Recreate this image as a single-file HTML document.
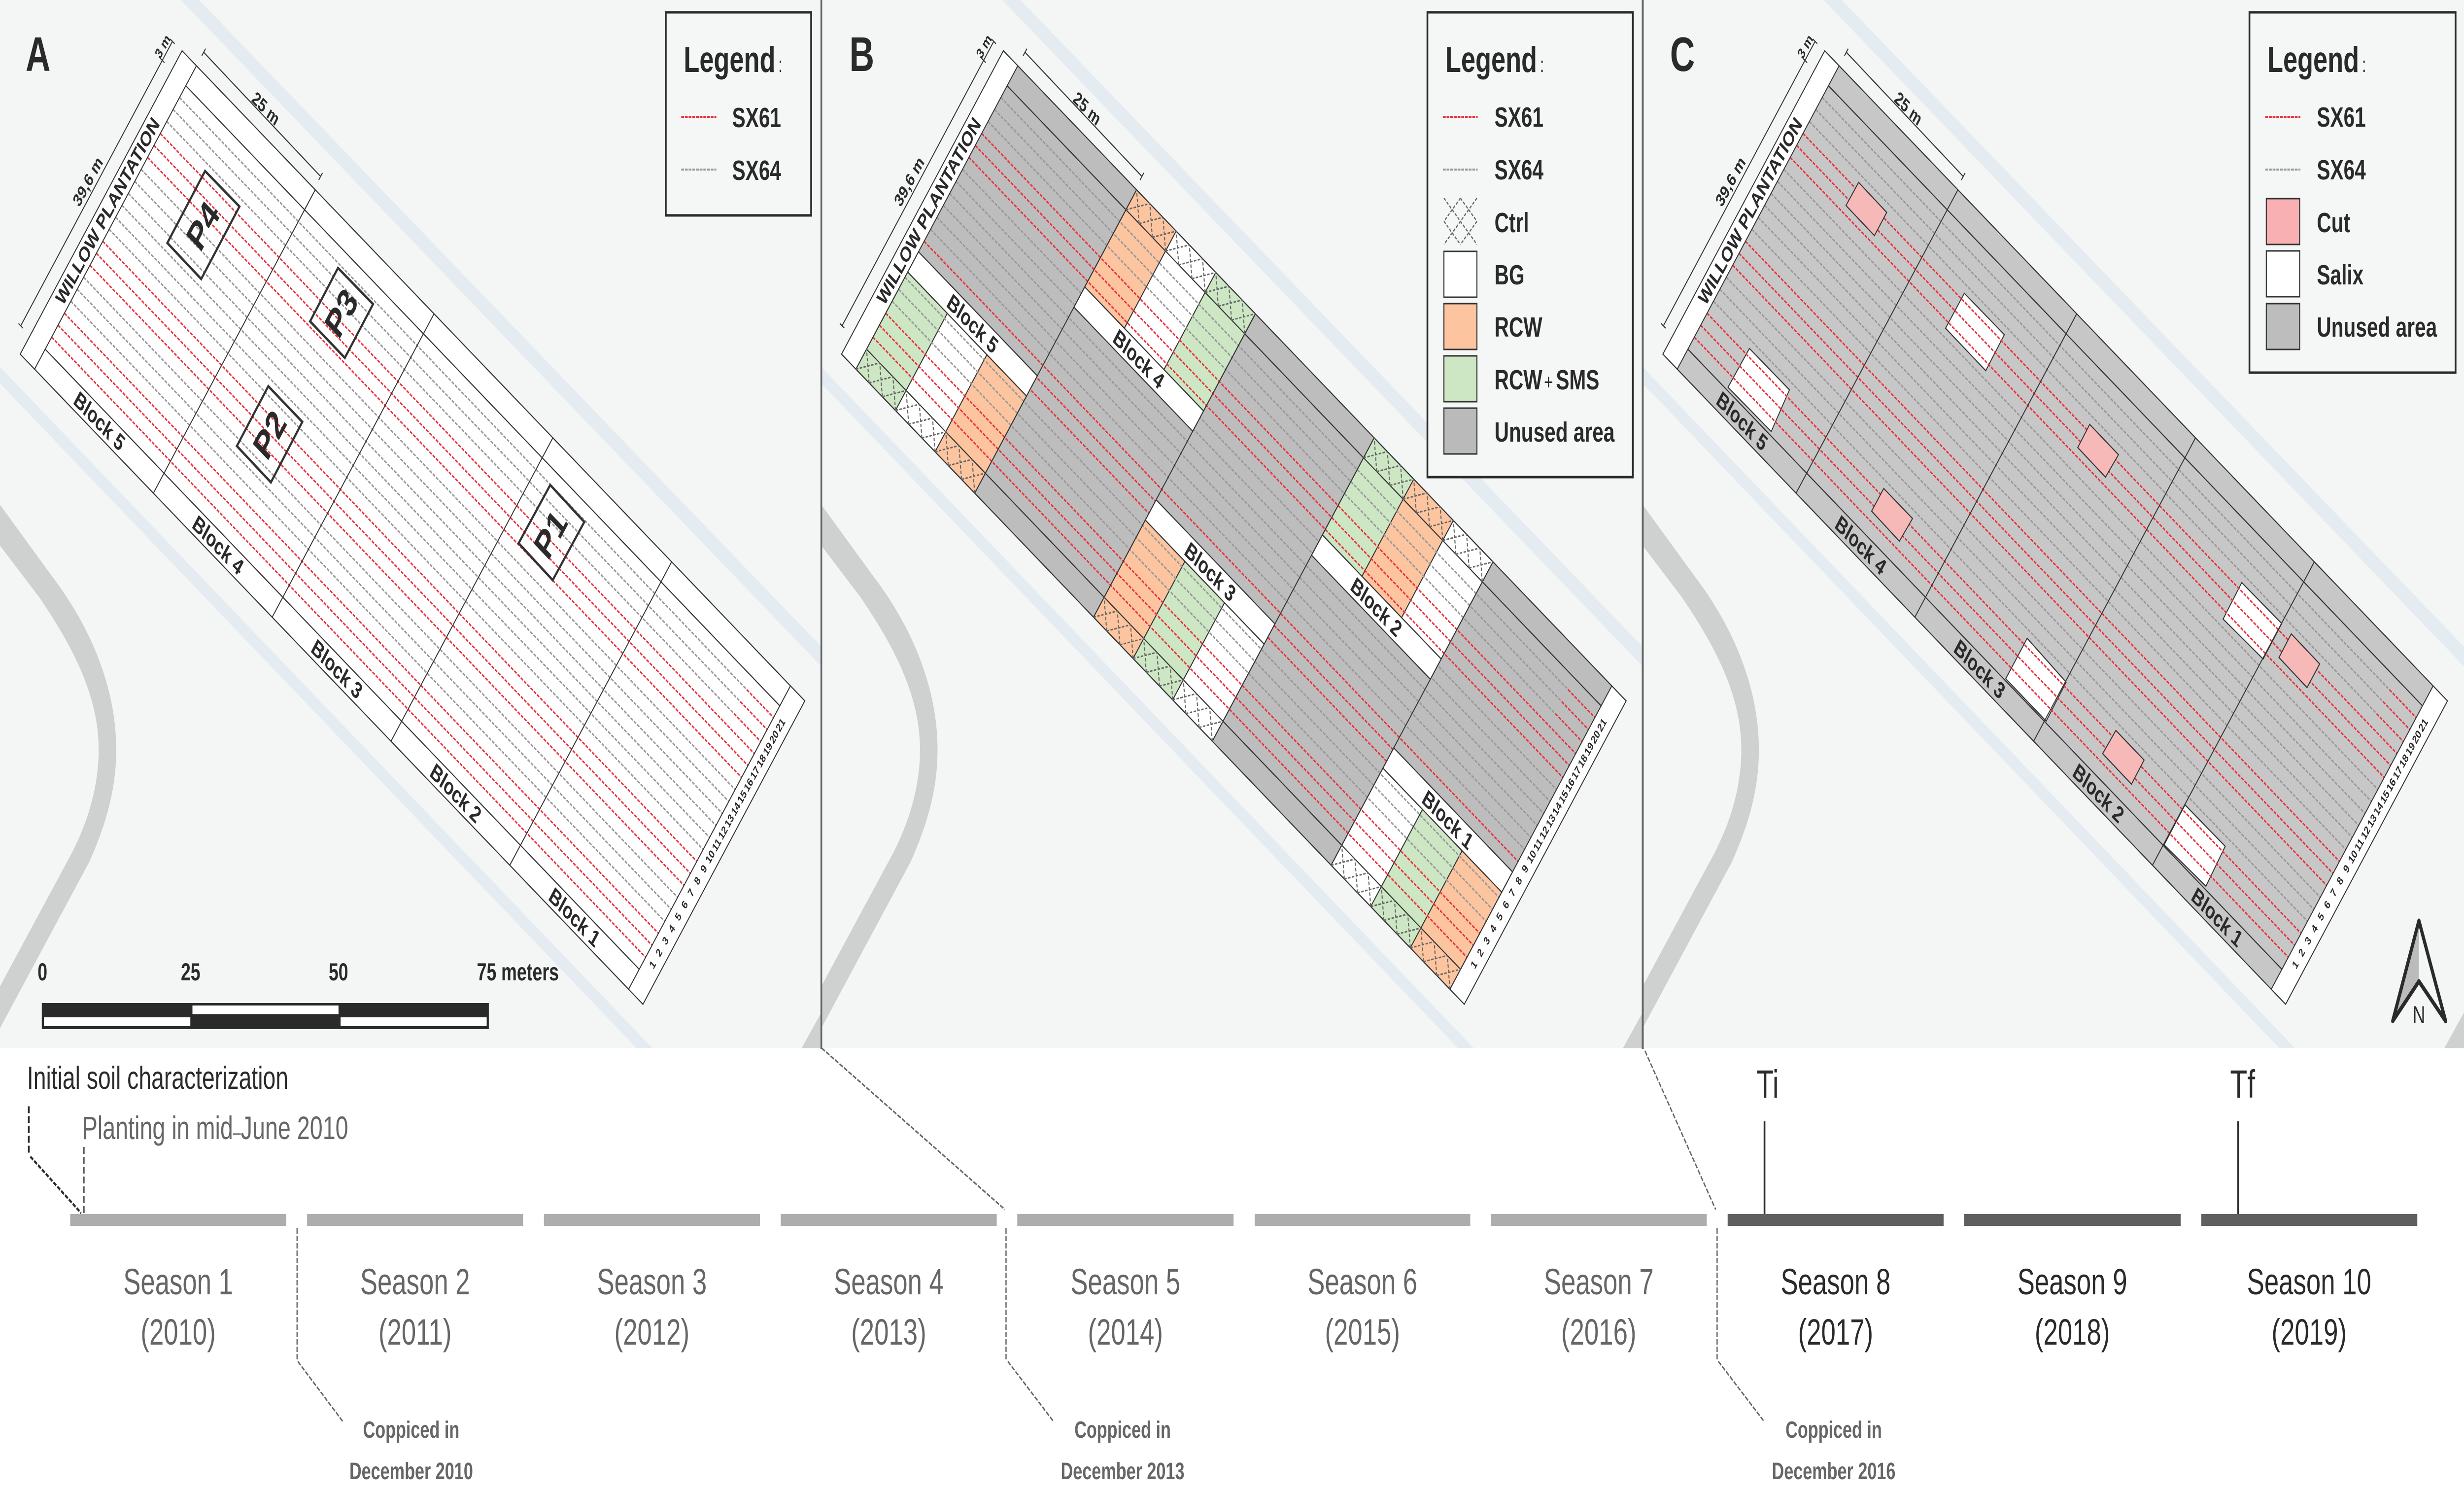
<!DOCTYPE html>
<html><head><meta charset="utf-8"><title>Willow plantation experimental design</title>
<style>
html,body{margin:0;padding:0;background:#fff;width:100%;height:100%;overflow:hidden}
svg{display:block;overflow:hidden;width:100vw;height:100vh}
text{font-family:"Liberation Sans",sans-serif;fill:#2a2a2a}
.b{font-weight:700}
.c{font-weight:700;text-anchor:middle;dominant-baseline:central}
.n text{font-weight:700;font-size:24px;text-anchor:middle;dominant-baseline:central}
.bl text{font-weight:700;font-size:47px;text-anchor:middle;dominant-baseline:central}
.leg{font-weight:700;font-size:57px}
.lt{font-weight:700;font-size:73.5px}
.s{font-size:74px;text-anchor:middle;fill:#666}
.sd{font-size:74px;text-anchor:middle;fill:#2a2a2a}
.cp{font-size:48px;font-weight:700;text-anchor:middle;fill:#666}
.sc{font-size:50px;font-weight:700}
</style></head><body>
<svg xmlns="http://www.w3.org/2000/svg" viewBox="0 0 7017 3025" preserveAspectRatio="none">
<defs>
<g id="base">
<rect x="0" y="0" width="2339" height="2126.5" fill="#f4f6f5"/>
<path d="M0,1024 L149,1170 C240,1255 331,1380 331,1521 C331,1590 310,1660 254,1749 L0,2086 L0,2001 L205,1730 C255,1660 281,1590 281,1521 C281,1410 205,1310 112,1212 L0,1107 Z" fill="#cfd0d0"/>
<polygon points="515,0 567,0 2339,1312 2339,1352" fill="#e4ebf1"/>
<polygon points="0,744.6 1858,2126.5 1813,2126.5 0,778" fill="#e4ebf1"/>
<polygon points="2339,2054 2283,2126.5 2339,2126.5" fill="#cfd0d0"/>
</g>
<g id="rows" fill="none" stroke-width="3.5" stroke-dasharray="8 3.5">
<path stroke="#999" d="M51 172.1H2159M51 202.5H2159M51 232.9H2159M51 354.4H2159M51 384.8H2159M51 415.2H2159M51 445.5H2159M51 475.9H2159M51 506.3H2159M51 627.8H2064M51 658.2H2064M51 688.6H2064"/>
<path stroke="#e8323c" d="M51 81H2159M51 111.4H2159M51 141.7H2159M51 263.3H2159M51 293.6H2159M51 324H2159M51 536.7H2159M51 567.1H2159M51 597.4H2159M2064 627.8H2159M2064 658.2H2159M2064 688.6H2159"/>
</g>
<path id="lines" fill="none" stroke="#333" stroke-width="2.5" d="M0 0H2210V769H0ZM51 0V769M472.6 0V769M894.2 0V769M1315.8 0V769M1737.4 0V769M2159 0V769M51 50.6H2159M51 718.4H2159"/>
<path id="h" fill="none" stroke="#666" stroke-width="3" stroke-dasharray="7 4" d="M0 0L46.8 50.6M46.8 0L0 50.6M46.8 0L93.7 50.6M93.7 0L46.8 50.6M93.7 0L140.5 50.6M140.5 0L93.7 50.6"/>
<path id="dim" fill="none" stroke="#333" stroke-width="2.5" d="M59,661L491,84M52.6,656.2L65.4,665.8M484.6,79.2L497.4,88.8M455.6,117.6L468.4,127.2M580,106L913,358M574.6,113.2L585.4,98.8M907.6,365.2L918.4,350.8"/>
</defs>

<rect width="7017" height="3025" fill="#fff"/>

<!-- PANEL A -->
<g>
<use href="#base"/>
<g transform="matrix(.80249 .59683 .59948 -.80039 57.5 718.5)">
<rect x="0" y="0" width="2210" height="769" fill="#fff"/>
<use href="#rows"/>
<use href="#lines"/>
</g>
<use href="#dim"/>
<text class="b" x="73" y="144" font-size="98">A</text>
<text class="c" font-size="43" transform="translate(306 428) rotate(-53.2)">WILLOW PLANTATION</text>
<text class="c" font-size="37" transform="translate(250 368) rotate(-53.2)">39,6 m</text>
<text class="c" font-size="30" transform="translate(463 94) rotate(-53.2)">3 m</text>
<text class="c" font-size="38" transform="translate(757 220) rotate(36.64)">25 m</text>
<g class="bl">
<text transform="translate(283 854.5) rotate(36.64)">Block 5</text>
<text transform="translate(621 1106) rotate(36.64)">Block 4</text>
<text transform="translate(959.4 1357.7) rotate(36.64)">Block 3</text>
<text transform="translate(1297.8 1609.4) rotate(36.64)">Block 2</text>
<text transform="translate(1636 1861) rotate(36.64)">Block 1</text>
</g>
<g class="n">
<text transform="translate(1859.1 1957.5) rotate(-53.2)">1</text>
<text transform="translate(1877.3 1933.1) rotate(-53.2)">2</text>
<text transform="translate(1895.4 1908.9) rotate(-53.2)">3</text>
<text transform="translate(1913.7 1884.6) rotate(-53.2)">4</text>
<text transform="translate(1931.9 1860.2) rotate(-53.2)">5</text>
<text transform="translate(1950.1 1835.9) rotate(-53.2)">6</text>
<text transform="translate(1968.3 1811.6) rotate(-53.2)">7</text>
<text transform="translate(1986.5 1787.3) rotate(-53.2)">8</text>
<text transform="translate(2004.7 1763) rotate(-53.2)">9</text>
<text transform="translate(2023 1738.6) rotate(-53.2)">10</text>
<text transform="translate(2041.2 1714.3) rotate(-53.2)">11</text>
<text transform="translate(2059.4 1690) rotate(-53.2)">12</text>
<text transform="translate(2077.6 1665.7) rotate(-53.2)">13</text>
<text transform="translate(2095.8 1641.4) rotate(-53.2)">14</text>
<text transform="translate(2114 1617.1) rotate(-53.2)">15</text>
<text transform="translate(2132.2 1592.7) rotate(-53.2)">16</text>
<text transform="translate(2150.5 1568.4) rotate(-53.2)">17</text>
<text transform="translate(2168.6 1544.1) rotate(-53.2)">18</text>
<text transform="translate(2186.9 1519.8) rotate(-53.2)">19</text>
<text transform="translate(2205.1 1495.5) rotate(-53.2)">20</text>
<text transform="translate(2223.3 1471.1) rotate(-53.2)">21</text>
</g>
<g fill="none" stroke="#333" stroke-width="5.5" stroke-linejoin="miter">
<polygon points="584,347 682,419 573,566 476.5,493"/>
<polygon points="962.5,543.7 1062.5,617 982,726 883,652"/>
<polygon points="764,783.6 861,856 771.5,978.6 674.5,905"/>
<polygon points="1567,984 1664,1059 1574,1177 1477,1102"/>
</g>
<text class="c" font-size="80" transform="translate(578 458) rotate(-53.2)">P4</text>
<text class="c" font-size="80" transform="translate(972 635) rotate(-53.2)">P3</text>
<text class="c" font-size="80" transform="translate(768 882) rotate(-53.2)">P2</text>
<text class="c" font-size="80" transform="translate(1568 1084) rotate(-53.2)">P1</text>
<!-- legend A -->
<rect x="1896" y="25" width="414" height="412" fill="#f5f7f6" stroke="#2a2a2a" stroke-width="5"/>
<text class="lt" x="1947" y="146">Legend<tspan font-size="44" font-weight="400" dx="8">:</tspan></text>
<path d="M1940 237H2040" stroke="#e8323c" stroke-width="4" stroke-dasharray="8 2.5"/>
<path d="M1940 344H2040" stroke="#999" stroke-width="4" stroke-dasharray="8 2.5"/>
<text class="leg" x="2085" y="258">SX61</text>
<text class="leg" x="2085" y="365">SX64</text>
<!-- scale bar -->
<rect x="119" y="2035" width="1273" height="53" fill="#2a2a2a"/>
<rect x="548" y="2040" width="416" height="17.5" fill="#fff"/>
<rect x="125" y="2064" width="417" height="18" fill="#fff"/>
<rect x="970" y="2064" width="416" height="18" fill="#fff"/>
<text class="sc" x="107" y="1989">0</text>
<text class="sc" x="515" y="1989">25</text>
<text class="sc" x="936" y="1989">50</text>
<text class="sc" x="1358" y="1989">75 meters</text>
</g>

<!-- PANEL B -->
<g transform="translate(2339 0)">
<use href="#base"/>
<g transform="matrix(.80249 .59683 .59948 -.80039 57.5 718.5)">
<rect x="0" y="0" width="2210" height="769" fill="#fff"/>
<rect x="51" y="0" width="2108" height="769" fill="#bcbdbc"/>
<g stroke="#333" stroke-width="2.5">
<rect x="51" y="0" width="140.5" height="246.2" fill="#cde6c4"/>
<rect x="191.5" y="0" width="140.5" height="246.2" fill="#fff"/>
<rect x="332" y="0" width="140.6" height="246.2" fill="#fcc5a0"/>
<rect x="894.2" y="0" width="140.5" height="246.2" fill="#fcc5a0"/>
<rect x="1034.7" y="0" width="140.5" height="246.2" fill="#cde6c4"/>
<rect x="1175.2" y="0" width="140.6" height="246.2" fill="#fff"/>
<rect x="1737.4" y="0" width="140.5" height="246.2" fill="#fff"/>
<rect x="1877.9" y="0" width="140.5" height="246.2" fill="#cde6c4"/>
<rect x="2018.4" y="0" width="140.6" height="246.2" fill="#fcc5a0"/>
<rect x="472.6" y="522.8" width="140.5" height="246.2" fill="#fcc5a0"/>
<rect x="613.1" y="522.8" width="140.5" height="246.2" fill="#fff"/>
<rect x="753.6" y="522.8" width="140.6" height="246.2" fill="#cde6c4"/>
<rect x="1315.8" y="522.8" width="140.5" height="246.2" fill="#cde6c4"/>
<rect x="1456.3" y="522.8" width="140.5" height="246.2" fill="#fcc5a0"/>
<rect x="1596.8" y="522.8" width="140.6" height="246.2" fill="#fff"/>
</g>
<use href="#rows"/>
<g fill="#fff" stroke="#333" stroke-width="2.5">
<rect x="51" y="246.2" width="421.6" height="51.3"/>
<rect x="894.2" y="246.2" width="421.6" height="51.3"/>
<rect x="1737.4" y="246.2" width="421.6" height="51.3"/>
<rect x="472.6" y="471.4" width="421.6" height="51.4"/>
<rect x="1315.8" y="471.4" width="421.6" height="51.4"/>
</g>
<use href="#lines"/>
<use href="#h" x="51" y="0"/><use href="#h" x="191.5" y="0"/><use href="#h" x="332" y="0"/>
<use href="#h" x="894.2" y="0"/><use href="#h" x="1034.7" y="0"/><use href="#h" x="1175.2" y="0"/>
<use href="#h" x="1737.4" y="0"/><use href="#h" x="1877.9" y="0"/><use href="#h" x="2018.4" y="0"/>
<use href="#h" x="472.6" y="718.4"/><use href="#h" x="613.1" y="718.4"/><use href="#h" x="753.6" y="718.4"/>
<use href="#h" x="1315.8" y="718.4"/><use href="#h" x="1456.3" y="718.4"/><use href="#h" x="1596.8" y="718.4"/>
</g>
<use href="#dim"/>
<text class="b" x="80" y="144" font-size="98">B</text>
<text class="c" font-size="43" transform="translate(306 428) rotate(-53.2)">WILLOW PLANTATION</text>
<text class="c" font-size="37" transform="translate(250 368) rotate(-53.2)">39,6 m</text>
<text class="c" font-size="30" transform="translate(463 94) rotate(-53.2)">3 m</text>
<text class="c" font-size="38" transform="translate(757 220) rotate(36.64)">25 m</text>
<g class="bl">
<text transform="translate(430.7 657) rotate(36.64)">Block 5</text>
<text transform="translate(903.8 728.6) rotate(36.64)">Block 4</text>
<text transform="translate(1107.4 1160.3) rotate(36.64)">Block 3</text>
<text transform="translate(1580.5 1231.8) rotate(36.64)">Block 2</text>
<text transform="translate(1783.9 1663.5) rotate(36.64)">Block 1</text>
</g>
<g class="n">
<text transform="translate(1859.1 1957.5) rotate(-53.2)">1</text>
<text transform="translate(1877.3 1933.1) rotate(-53.2)">2</text>
<text transform="translate(1895.4 1908.9) rotate(-53.2)">3</text>
<text transform="translate(1913.7 1884.6) rotate(-53.2)">4</text>
<text transform="translate(1931.9 1860.2) rotate(-53.2)">5</text>
<text transform="translate(1950.1 1835.9) rotate(-53.2)">6</text>
<text transform="translate(1968.3 1811.6) rotate(-53.2)">7</text>
<text transform="translate(1986.5 1787.3) rotate(-53.2)">8</text>
<text transform="translate(2004.7 1763) rotate(-53.2)">9</text>
<text transform="translate(2023 1738.6) rotate(-53.2)">10</text>
<text transform="translate(2041.2 1714.3) rotate(-53.2)">11</text>
<text transform="translate(2059.4 1690) rotate(-53.2)">12</text>
<text transform="translate(2077.6 1665.7) rotate(-53.2)">13</text>
<text transform="translate(2095.8 1641.4) rotate(-53.2)">14</text>
<text transform="translate(2114 1617.1) rotate(-53.2)">15</text>
<text transform="translate(2132.2 1592.7) rotate(-53.2)">16</text>
<text transform="translate(2150.5 1568.4) rotate(-53.2)">17</text>
<text transform="translate(2168.6 1544.1) rotate(-53.2)">18</text>
<text transform="translate(2186.9 1519.8) rotate(-53.2)">19</text>
<text transform="translate(2205.1 1495.5) rotate(-53.2)">20</text>
<text transform="translate(2223.3 1471.1) rotate(-53.2)">21</text>
</g>
</g>
<!-- legend B -->
<rect x="4065" y="25" width="585" height="943" fill="#f5f7f6" stroke="#2a2a2a" stroke-width="5"/>
<text class="lt" x="4116" y="146">Legend<tspan font-size="44" font-weight="400" dx="8">:</tspan></text>
<path d="M4109 237H4208" stroke="#e8323c" stroke-width="4" stroke-dasharray="8 2.5"/>
<path d="M4109 344H4208" stroke="#999" stroke-width="4" stroke-dasharray="8 2.5"/>
<path transform="translate(4112 402)" fill="none" stroke="#666" stroke-width="3" stroke-dasharray="7 4" d="M0 0L94 94M47 0L94 47M0 47L47 94M94 0L0 94M47 0L0 47M94 47L47 94"/>
<g stroke="#333" stroke-width="3">
<rect x="4112" y="510" width="94" height="93" fill="#fff"/>
<rect x="4112" y="616" width="94" height="93" fill="#fcc5a0"/>
<rect x="4112" y="722" width="94" height="93" fill="#cde6c4"/>
<rect x="4112" y="828" width="94" height="93" fill="#b9bab9"/>
</g>
<text class="leg" x="4256" y="257">SX61</text>
<text class="leg" x="4256" y="364">SX64</text>
<text class="leg" x="4256" y="471">Ctrl</text>
<text class="leg" x="4256" y="577">BG</text>
<text class="leg" x="4256" y="683">RCW</text>
<text class="leg" x="4256" y="790">RCW<tspan x="4397" font-size="44" font-weight="400">+</tspan><tspan x="4431">SMS</tspan></text>
<text class="leg" x="4256" y="896">Unused area</text>

<!-- PANEL C -->
<g transform="translate(4678 0)">
<use href="#base"/>
<g transform="matrix(.80249 .59683 .59948 -.80039 57.5 718.5)">
<rect x="0" y="0" width="2210" height="769" fill="#fff"/>
<rect x="51" y="0" width="2108" height="769" fill="#c7c7c7"/>
</g>
<g fill="#fff" stroke="#333" stroke-width="2.5">
<polygon points="304,707 418,791 366,875.5 243,785.7"/>
<polygon points="916,595 1030,679 977,752 862.5,666"/>
<polygon points="1706,1182 1820,1265 1767,1337 1653,1256"/>
<polygon points="1095,1295 1206,1384 1149,1463 1034,1377"/>
<polygon points="1544.5,1633 1659,1717 1604,1798 1485,1714"/>
</g>
<g transform="matrix(.80249 .59683 .59948 -.80039 57.5 718.5)">
<use href="#rows"/>
<use href="#lines"/>
</g>
<g fill="#f7b8b8" stroke="#333" stroke-width="2.5">
<polygon points="615,370 695,431 660,478 579,417"/>
<polygon points="1273,861 1355,922.5 1318,968 1239,908"/>
<polygon points="686.5,991 768.5,1052 731,1098 652,1037"/>
<polygon points="1847,1286 1928,1347 1892,1395 1812,1334"/>
<polygon points="1347.6,1482 1428,1542 1392,1591 1310,1529"/>
</g>
<use href="#dim"/>
<text class="b" x="78" y="144" font-size="98">C</text>
<text class="c" font-size="43" transform="translate(306 428) rotate(-53.2)">WILLOW PLANTATION</text>
<text class="c" font-size="37" transform="translate(250 368) rotate(-53.2)">39,6 m</text>
<text class="c" font-size="30" transform="translate(463 94) rotate(-53.2)">3 m</text>
<text class="c" font-size="38" transform="translate(757 220) rotate(36.64)">25 m</text>
<g class="bl">
<text transform="translate(283 854.5) rotate(36.64)">Block 5</text>
<text transform="translate(621 1106) rotate(36.64)">Block 4</text>
<text transform="translate(959.4 1357.7) rotate(36.64)">Block 3</text>
<text transform="translate(1297.8 1609.4) rotate(36.64)">Block 2</text>
<text transform="translate(1636 1861) rotate(36.64)">Block 1</text>
</g>
<g class="n">
<text transform="translate(1859.1 1957.5) rotate(-53.2)">1</text>
<text transform="translate(1877.3 1933.1) rotate(-53.2)">2</text>
<text transform="translate(1895.4 1908.9) rotate(-53.2)">3</text>
<text transform="translate(1913.7 1884.6) rotate(-53.2)">4</text>
<text transform="translate(1931.9 1860.2) rotate(-53.2)">5</text>
<text transform="translate(1950.1 1835.9) rotate(-53.2)">6</text>
<text transform="translate(1968.3 1811.6) rotate(-53.2)">7</text>
<text transform="translate(1986.5 1787.3) rotate(-53.2)">8</text>
<text transform="translate(2004.7 1763) rotate(-53.2)">9</text>
<text transform="translate(2023 1738.6) rotate(-53.2)">10</text>
<text transform="translate(2041.2 1714.3) rotate(-53.2)">11</text>
<text transform="translate(2059.4 1690) rotate(-53.2)">12</text>
<text transform="translate(2077.6 1665.7) rotate(-53.2)">13</text>
<text transform="translate(2095.8 1641.4) rotate(-53.2)">14</text>
<text transform="translate(2114 1617.1) rotate(-53.2)">15</text>
<text transform="translate(2132.2 1592.7) rotate(-53.2)">16</text>
<text transform="translate(2150.5 1568.4) rotate(-53.2)">17</text>
<text transform="translate(2168.6 1544.1) rotate(-53.2)">18</text>
<text transform="translate(2186.9 1519.8) rotate(-53.2)">19</text>
<text transform="translate(2205.1 1495.5) rotate(-53.2)">20</text>
<text transform="translate(2223.3 1471.1) rotate(-53.2)">21</text>
</g>
</g>
<!-- legend C -->
<rect x="6406" y="25" width="587" height="731" fill="#f5f7f6" stroke="#2a2a2a" stroke-width="5"/>
<text class="lt" x="6457" y="146">Legend<tspan font-size="44" font-weight="400" dx="8">:</tspan></text>
<path d="M6451 237H6551" stroke="#e8323c" stroke-width="4" stroke-dasharray="8 2.5"/>
<path d="M6451 344H6551" stroke="#999" stroke-width="4" stroke-dasharray="8 2.5"/>
<g stroke="#333" stroke-width="3">
<rect x="6454" y="403" width="95" height="93" fill="#f8b0b2"/>
<rect x="6454" y="509" width="95" height="93" fill="#fff"/>
<rect x="6454" y="616" width="95" height="93" fill="#bdbdbd"/>
</g>
<text class="leg" x="6598" y="257">SX61</text>
<text class="leg" x="6598" y="364">SX64</text>
<text class="leg" x="6598" y="471">Cut</text>
<text class="leg" x="6598" y="577">Salix</text>
<text class="leg" x="6598" y="683">Unused area</text>
<!-- north arrow -->
<polygon points="6888.6,1868 6888.6,1991 6814,2071.6" fill="#bbb"/>
<polygon points="6888.6,1868 6964.7,2071.6 6888.6,1991 6814,2071.6" fill="none" stroke="#2a2a2a" stroke-width="9" stroke-linejoin="round"/>
<text x="6888.6" y="2076" font-size="50" text-anchor="middle">N</text>

<!-- panel separators -->
<rect x="2336.5" y="0" width="5" height="2128" fill="#666"/>
<rect x="4675.5" y="0" width="5.5" height="2128" fill="#666"/>

<!-- TIMELINE -->
<g fill="#adadad">
<rect x="200" y="2463" width="615" height="24"/>
<rect x="874.5" y="2463" width="615" height="24"/>
<rect x="1549" y="2463" width="615" height="24"/>
<rect x="2223.5" y="2463" width="615" height="24"/>
<rect x="2897" y="2463" width="616" height="24"/>
<rect x="3573" y="2463" width="614" height="24"/>
<rect x="4246" y="2463" width="614.5" height="24"/>
</g>
<g fill="#5e5f5e">
<rect x="4920" y="2463" width="615" height="24"/>
<rect x="5593" y="2463" width="617" height="24"/>
<rect x="6269" y="2463" width="615" height="24"/>
</g>
<path d="M82 2244.5V2342" fill="none" stroke="#2a2a2a" stroke-width="5" stroke-dasharray="14 6"/>
<path d="M86.5 2346.6L231 2461" fill="none" stroke="#2a2a2a" stroke-width="5" stroke-dasharray="10 4"/>
<path d="M239 2327V2461" fill="none" stroke="#555" stroke-width="4" stroke-dasharray="14 6"/>
<g fill="none" stroke="#666" stroke-width="3.5" stroke-dasharray="11 4">
<path d="M846 2492V2758M848 2762L977 2884.7"/>
<path d="M2865 2492V2758M2870 2762L3001 2884.7"/>
<path d="M4890 2492V2758M4893.5 2762L5024.7 2884.7"/>
<path d="M2340 2126.5L2862 2454"/>
<path d="M4684.5 2132L4886 2454"/>
</g>
<path d="M5025 2275V2463M6374 2275V2463" fill="none" stroke="#2a2a2a" stroke-width="5"/>
<text x="5002" y="2227" font-size="80">Ti</text>
<text x="6351" y="2227" font-size="80">Tf</text>
<text x="77" y="2209" font-size="65">Initial soil characterization</text>
<text x="234" y="2311" font-size="65.5" style="fill:#666">Planting in mid<tspan font-size="40">–</tspan>June 2010</text>
<text class="s" x="507.5" y="2626">Season 1</text><text class="s" x="507.5" y="2728">(2010)</text>
<text class="s" x="1182" y="2626">Season 2</text><text class="s" x="1182" y="2728">(2011)</text>
<text class="s" x="1856.5" y="2626">Season 3</text><text class="s" x="1856.5" y="2728">(2012)</text>
<text class="s" x="2531" y="2626">Season 4</text><text class="s" x="2531" y="2728">(2013)</text>
<text class="s" x="3205" y="2626">Season 5</text><text class="s" x="3205" y="2728">(2014)</text>
<text class="s" x="3880" y="2626">Season 6</text><text class="s" x="3880" y="2728">(2015)</text>
<text class="s" x="4553" y="2626">Season 7</text><text class="s" x="4553" y="2728">(2016)</text>
<text class="sd" x="5227.5" y="2626">Season 8</text><text class="sd" x="5227.5" y="2728">(2017)</text>
<text class="sd" x="5901.5" y="2626">Season 9</text><text class="sd" x="5901.5" y="2728">(2018)</text>
<text class="sd" x="6576" y="2626">Season 10</text><text class="sd" x="6576" y="2728">(2019)</text>
<text class="cp" x="1171" y="2917">Coppiced in</text><text class="cp" x="1171" y="3001">December 2010</text>
<text class="cp" x="3197" y="2917">Coppiced in</text><text class="cp" x="3197" y="3001">December 2013</text>
<text class="cp" x="5222" y="2917">Coppiced in</text><text class="cp" x="5222" y="3001">December 2016</text>
</svg>
</body></html>
